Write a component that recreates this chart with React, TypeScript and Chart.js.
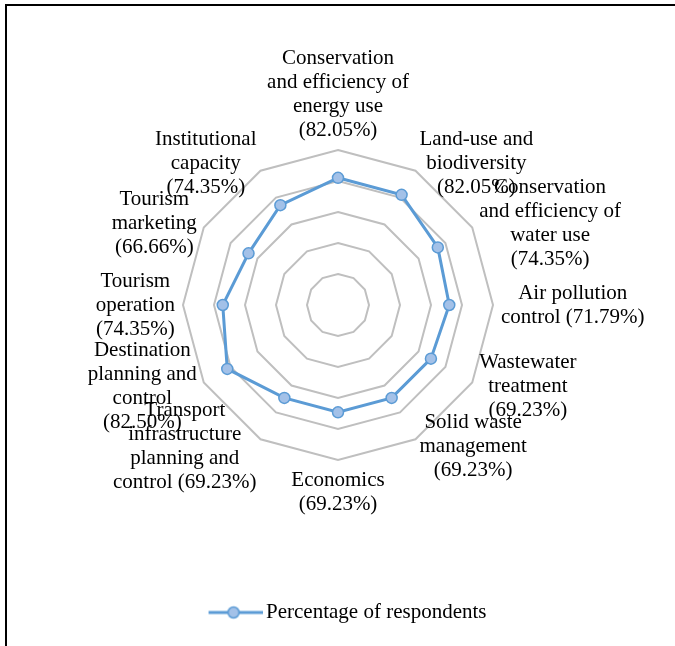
import React, { useEffect, useRef } from "react";
import { Chart, registerables } from "chart.js";

Chart.register(...registerables);

// ---- data ----
const categories: string[][] = [
  ["Conservation", "and efficiency of", "energy use", "(82.05%)"],
  ["Land-use and", "biodiversity", "(82.05%)"],
  ["Conservation", "and efficiency of", "water use", "(74.35%)"],
  ["Air pollution", "control (71.79%)"],
  ["Wastewater", "treatment", "(69.23%)"],
  ["Solid waste", "management", "(69.23%)"],
  ["Economics", "(69.23%)"],
  ["Transport", "infrastructure", "planning and", "control (69.23%)"],
  ["Destination", "planning and", "control", "(82.50%)"],
  ["Tourism", "operation", "(74.35%)"],
  ["Tourism", "marketing", "(66.66%)"],
  ["Institutional", "capacity", "(74.35%)"],
];
const respondents: number[] = [82.05, 82.05, 74.35, 71.79, 69.23, 69.23, 69.23, 69.23, 82.5, 74.35, 66.66, 74.35];
const seriesName = "Percentage of respondents";
const scaleMin = 0;
const scaleMax = 100;
const scaleStep = 20;

// ---- styles ----
const LINE = "#5B9BD5";
const POINT_FILL = "#A3C1E8";
const GRID = "#BFBFBF";
const FONT = '"Liberation Serif", "Times New Roman", serif';
const FONT_SIZE = 21;
const LINE_H = 24;

function makeLegendMarker(): HTMLCanvasElement {
  const c = document.createElement("canvas");
  c.width = 80;
  c.height = 16;
  const g = c.getContext("2d")!;
  g.strokeStyle = LINE;
  g.lineWidth = 3;
  g.beginPath();
  g.moveTo(26, 8);
  g.lineTo(80, 8);
  g.stroke();
  g.beginPath();
  g.arc(51, 8, 5.5, 0, Math.PI * 2);
  g.fillStyle = POINT_FILL;
  g.fill();
  g.lineWidth = 1.5;
  g.stroke();
  return c;
}

const excelPointLabels = {
  id: "excelPointLabels",
  afterDraw(chart: any) {
    const scale = chart.scales.r;
    const ctx = chart.ctx as CanvasRenderingContext2D;
    const labels = chart.data.labels as (string | string[])[];
    const n = labels.length;
    ctx.save();
    ctx.font = `${FONT_SIZE}px ${FONT}`;
    ctx.fillStyle = "#000";
    ctx.textBaseline = "middle";
    ctx.textAlign = "center";
    labels.forEach((lab, i) => {
      const lines = Array.isArray(lab) ? lab : [lab];
      const p = scale.getPointPosition(i, scale.drawingArea + 8);
      const w = Math.max(...lines.map((l) => ctx.measureText(l).width));
      const h = lines.length * LINE_H;
      const deg = (i * 360) / n;
      let cx: number;
      let top: number;
      if (deg === 0) {
        cx = p.x;
        top = p.y - h;
      } else if (deg === 180) {
        cx = p.x;
        top = p.y;
      } else {
        cx = deg < 180 ? p.x + w / 2 : p.x - w / 2;
        top = p.y - h / 2;
      }
      lines.forEach((l, k) => ctx.fillText(l, cx, top + LINE_H * k + LINE_H / 2));
    });
    ctx.restore();
  },
};

export default function App() {
  const ref = useRef<HTMLCanvasElement>(null);

  useEffect(() => {
    const marker = makeLegendMarker();
    const chart = new Chart(ref.current!, {
      type: "radar",
      data: {
        labels: categories,
        datasets: [
          {
            label: seriesName,
            data: respondents,
            borderColor: LINE,
            borderWidth: 3,
            backgroundColor: POINT_FILL,
            pointBackgroundColor: POINT_FILL,
            pointBorderColor: LINE,
            pointBorderWidth: 1.5,
            pointRadius: 5.5,
            fill: false,
            tension: 0,
          },
        ],
      },
      options: {
        responsive: false,
        animation: false,
        layout: { padding: { left: 183, right: 182, top: 18, bottom: 13 } },
        scales: {
          r: {
            min: scaleMin,
            max: scaleMax,
            ticks: { display: false, stepSize: scaleStep },
            grid: { color: GRID, lineWidth: 2, circular: false },
            angleLines: { display: false },
            pointLabels: { display: false },
          },
        },
        plugins: {
          tooltip: { enabled: false },
          legend: {
            position: "bottom",
            labels: {
              usePointStyle: true,
              pointStyleWidth: 66,
              color: "#000",
              font: { family: FONT, size: FONT_SIZE },
              padding: 10,
              generateLabels: (c: any) =>
                Chart.defaults.plugins.legend.labels
                  .generateLabels(c)
                  .map((it: any) => ({ ...it, pointStyle: marker, fontColor: "#000" })),
            },
          },
        },
      },
      plugins: [excelPointLabels],
    } as any);
    return () => chart.destroy();
  }, []);

  return (
    <div
      style={{
        position: "fixed",
        left: 0,
        top: 0,
        width: 675,
        height: 646,
        background: "#fff",
        overflow: "hidden",
      }}
    >
      <div
        style={{
          position: "absolute",
          left: 5,
          top: 4,
          width: 720,
          height: 720,
          borderLeft: "2px solid #000",
          borderTop: "2px solid #000",
        }}
      />
      <canvas
        ref={ref}
        width={675}
        height={646}
        style={{ position: "absolute", left: 0, top: 0, width: 675, height: 646 }}
      />
    </div>
  );
}
